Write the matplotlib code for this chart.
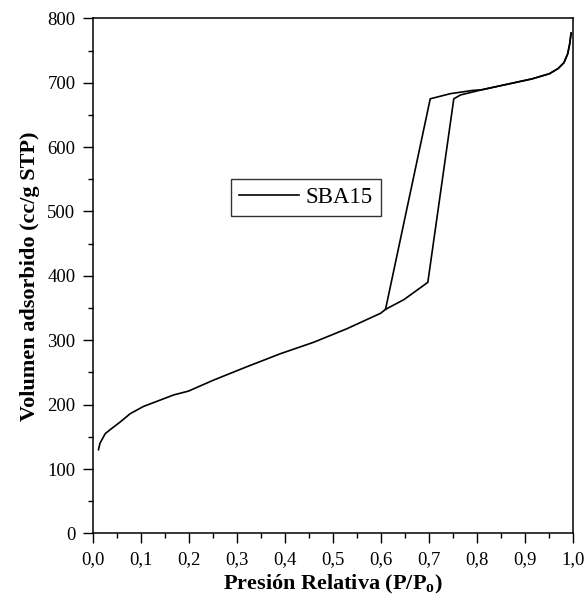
import matplotlib
matplotlib.use('Agg')
import matplotlib.pyplot as plt
from matplotlib.ticker import MultipleLocator, FuncFormatter

# adsorption branch (P/P0, cc/g STP)
ads_x = [0.012, 0.015, 0.026, 0.036, 0.057, 0.078, 0.105, 0.133, 0.168, 0.199,
         0.251, 0.321, 0.390, 0.460, 0.529, 0.599, 0.609, 0.647, 0.675, 0.697,
         0.751, 0.765, 0.809, 0.914, 0.950, 0.968, 0.980, 0.988, 0.992, 0.995]
ads_y = [130, 140, 155, 161, 173, 186, 197, 205, 215, 221,
         238, 259, 279, 297, 318, 342, 348, 363, 378, 390,
         675, 681, 689, 706, 714, 722, 731, 745, 760, 777]

# desorption branch
des_x = [0.995, 0.992, 0.988, 0.980, 0.968, 0.950, 0.914, 0.809, 0.790, 0.744, 0.702, 0.609]
des_y = [777, 760, 745, 731, 722, 714, 706, 689, 688, 683, 675, 348]

plt.rcParams['font.family'] = ['Liberation Serif', 'DejaVu Serif']
plt.rcParams['mathtext.default'] = 'regular'

fig = plt.figure(figsize=(5.87, 6.11), dpi=100)
ax = fig.add_axes([0.158, 0.127, 0.819, 0.843])

ax.plot(ads_x, ads_y, color='black', lw=1.2, label='SBA15')
ax.plot(des_x, des_y, color='black', lw=1.2)

ax.set_xlim(0, 1.0)
ax.set_ylim(0, 800)

ax.xaxis.set_major_locator(MultipleLocator(0.1))
ax.xaxis.set_minor_locator(MultipleLocator(0.05))
ax.yaxis.set_major_locator(MultipleLocator(100))
ax.yaxis.set_minor_locator(MultipleLocator(50))
ax.xaxis.set_major_formatter(FuncFormatter(lambda v, p: f"{v:.1f}".replace('.', ',')))

ax.tick_params(which='major', direction='out', length=7.5, width=1.0,
               labelsize=13.5, pad=5, top=False, right=False)
ax.tick_params(which='minor', direction='out', length=3.8, width=1.0,
               top=False, right=False)
for s in ax.spines.values():
    s.set_linewidth(1.1)

ax.set_xlabel('Presión Relativa (P/P$_\\mathregular{o}$)', fontsize=16,
              fontweight='bold', labelpad=4)
ax.set_ylabel('Volumen adsorbido (cc/g STP)', fontsize=16,
              fontweight='bold', labelpad=5)

leg = ax.legend(loc='upper left', bbox_to_anchor=(0.288, 0.688), borderaxespad=0,
                fontsize=16.5, frameon=True, fancybox=False, handlelength=2.6,
                handletextpad=0.3, borderpad=0.35)
leg.get_frame().set_edgecolor('black')
leg.get_frame().set_linewidth(1.0)

fig.savefig('out.png', dpi=100)
